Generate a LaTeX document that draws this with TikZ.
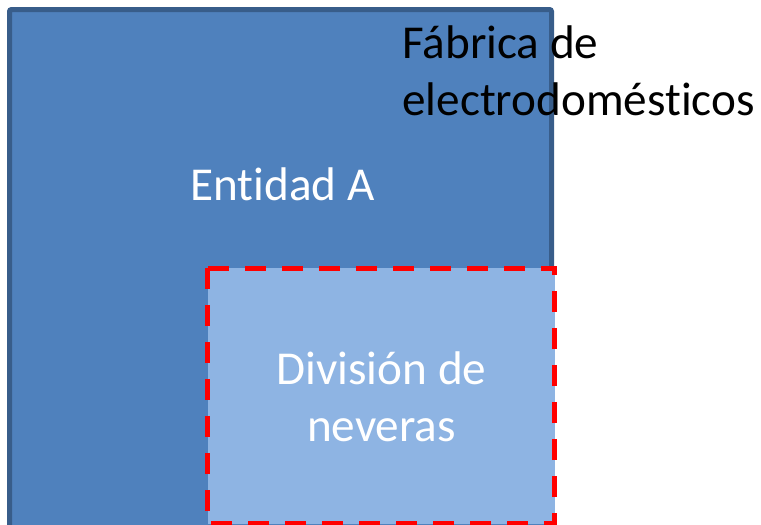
\documentclass[tikz,border=0pt]{standalone}
\usepackage{fontspec}
\setmainfont{Carlito}[RawFeature=-liga]
\definecolor{entblue}{RGB}{79,129,189}
\definecolor{entedge}{RGB}{56,93,138}
\definecolor{divblue}{RGB}{142,180,227}
\tikzset{
  entity/.style={fill=entblue,draw=entedge,line width=3.75pt,rounded corners=1.5pt},
  division/.style={fill=divblue,draw=red,line width=3.75pt,dash pattern=on 15.75pt off 12pt},
  label/.style={inner sep=0pt,font=\fontsize{35.4}{42.75}\selectfont}
}
\begin{document}
\begin{tikzpicture}[x=0.75pt,y=-0.75pt]
  \useasboundingbox (0,0) rectangle (761,525);
  \clip (0,0) rectangle (761,525);

  %% outer entity
  \draw[entity] (9.5,9.5) rectangle (551.5,560);

  %% inner division
  \draw[division] (207.5,268) rectangle (554.5,523.5);

  %% texts
  \node[label,anchor=north west,align=left] (fabrica) at (402,25) {Fábrica de\\electrodomésticos};
  \node[label,text=white] (entidad) at (282.5,184) {Entidad A};
  \node[label,text=white,align=center] (division) at (381.5,397) {División de\\neveras};
\end{tikzpicture}
\end{document}
